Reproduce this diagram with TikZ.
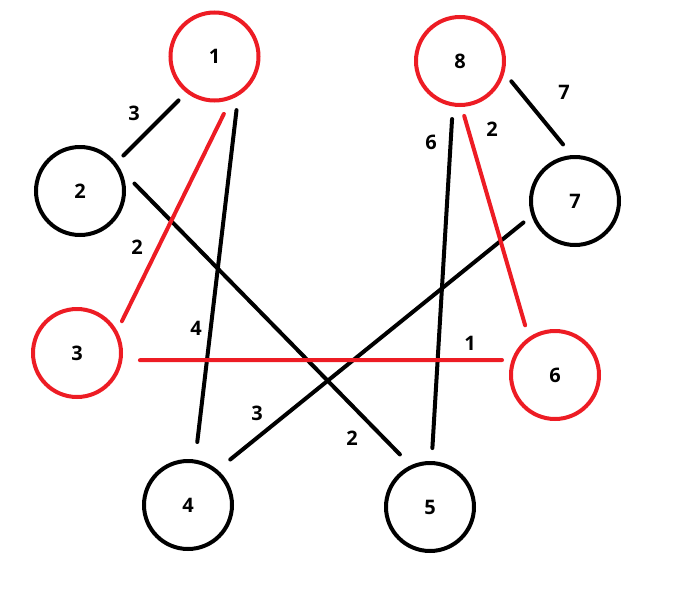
\documentclass[tikz,border=0pt]{standalone}
\usepackage{fontspec}
\setsansfont{Open Sans}
\definecolor{paintred}{RGB}{237,28,36}
\begin{document}
\begin{tikzpicture}[x=1pt,y=-1pt,
	vtx/.style={circle,draw,line width=4pt,minimum size=88pt,inner sep=0pt,font=\sffamily\bfseries\fontsize{20}{24}\selectfont},
	picked/.style={vtx,draw=paintred},
	edge/.style={line width=4pt,line cap=round},
	pickededge/.style={edge,draw=paintred},
	wt/.style={inner sep=0pt,font=\sffamily\bfseries\fontsize{20}{24}\selectfont}]
	\useasboundingbox (0,0) rectangle (680,592);
	\node[picked] (n1) at (214.5,56.5) {1};
	\node[vtx] (n2) at (80,191) {2};
	\node[picked] (n3) at (77,353) {3};
	\node[vtx] (n4) at (188,505) {4};
	\node[vtx] (n5) at (430,507) {5};
	\node[picked] (n6) at (555,375) {6};
	\node[vtx] (n7) at (575,201) {7};
	\node[picked] (n8) at (460,61) {8};
	\draw[edge,shorten <=10.8pt,shorten >=10.1pt] (n1.232) -- (n2.38);
	\draw[edge,shorten <=14.3pt,shorten >=17.7pt] (n1.-59) -- (n4.81);
	\draw[edge,shorten <=19.8pt,shorten >=15.2pt] (n2.28) -- (n5.115);
	\draw[edge,shorten <=16.3pt,shorten >=10.3pt] (n4.50) -- (n7.199);
	\draw[edge,shorten <=13pt,shorten >=12.6pt] (n5.88) -- (n8.261);
	\draw[edge,shorten <=10.9pt,shorten >=13.8pt] (n8.-15) -- (n7.94);
	\draw[pickededge,shorten <=16.1pt,shorten >=10.6pt] (n1.-69) -- (n3.29);
	\draw[pickededge,shorten <=17.5pt,shorten >=9.5pt] (n3.-9) -- (n6.161);
	\draw[pickededge,shorten <=9.3pt,shorten >=12.5pt] (n8.-88) -- (n6.125);
	\node[wt] (w12) at (134,113) {3};
	\node[wt] (w13) at (137,247) {2};
	\node[wt] (w14) at (196,328) {4};
	\node[wt] (w47) at (257,413) {3};
	\node[wt] (w25) at (352,438) {2};
	\node[wt] (w36) at (470,343) {1};
	\node[wt] (w58) at (431,142) {6};
	\node[wt] (w86) at (492,129) {2};
	\node[wt] (w87) at (564,92) {7};
\end{tikzpicture}
\end{document}
